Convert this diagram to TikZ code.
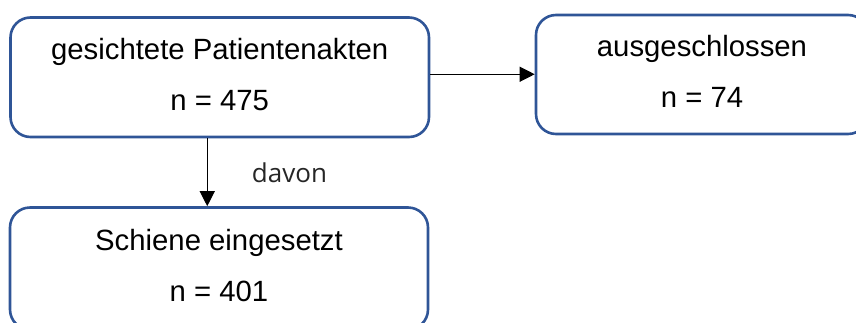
\documentclass[tikz,border=0pt]{standalone}
\usepackage{fontspec}
\setmainfont{Liberation Sans}
\newfontfamily\labfont{Open Sans}
\usetikzlibrary{positioning,arrows.meta}
\definecolor{boxblue}{HTML}{2F5597}

\begin{document}
\begin{tikzpicture}[
  x=1pt, y=-1pt,
  >={Triangle[length=15pt, width=15pt]},
  box/.style={draw=boxblue, line width=2.6pt, rounded corners=20pt, align=center, inner sep=0pt, font=\fontsize{29.3}{51}\selectfont},
  lab/.style={font=\labfont\fontsize{26}{30}\selectfont, text=black!85},
  conn/.style={->, line width=1.2pt}
]
\useasboundingbox (0,0) rectangle (856,322);
\clip (0,0) rectangle (856,322);

% Boxes
\node[box, minimum width=418.5pt, minimum height=119.5pt] (screened) at (219.75,77.25) {gesichtete Patientenakten\\ n = 475\rule[-6pt]{0pt}{6pt}};
\node[box, minimum width=332pt, minimum height=119pt] (excluded) at (702,74.5) {ausgeschlossen\\ n = 74\rule[-6pt]{0pt}{6pt}};
\node[box, minimum width=418pt, minimum height=122pt] (splint) at (219,268.5) {Schiene eingesetzt\\ n = 401\rule[-6pt]{0pt}{6pt}};

% Connectors
\draw[conn] ([yshift=3pt]screened.east) -- ([yshift=3pt]screened.east -| excluded.west);
\draw[conn] ([xshift=-12.5pt]screened.south) -- ([xshift=-12.5pt]screened.south |- splint.north);
\node[lab, anchor=base] (davon) at (289.5,182) {davon};
\end{tikzpicture}
\end{document}
